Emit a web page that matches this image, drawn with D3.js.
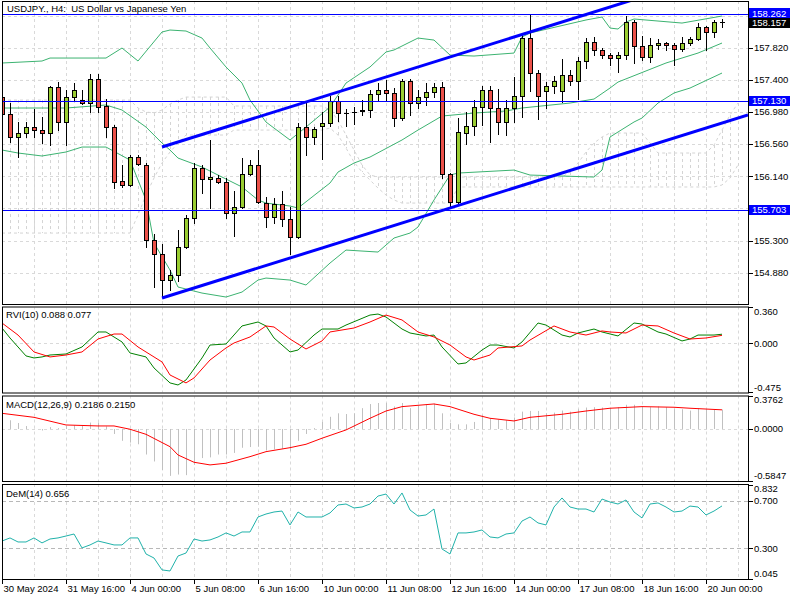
<!DOCTYPE html>
<html><head><meta charset="utf-8">
<script src="https://cdn.jsdelivr.net/npm/d3@7"></script>
<style>
body{margin:0;background:#fff}
svg{display:block}
text{font-family:"Liberation Sans",Arial,sans-serif;font-size:9.5px;white-space:pre}
</style>
</head><body>
<svg id="c" width="800" height="600"></svg>
<script>
// ---------------- DATA ----------------
const opens=[157.175,156.953,156.653,156.705,156.783,156.744,156.705,157.306,156.849,157.175,157.136,157.097,157.411,157.058,156.783,156.078,156.026,156.391,156.287,155.307,155.124,154.784,154.850,155.215,155.594,156.248,156.104,156.117,156.065,155.660,155.738,156.169,156.287,155.790,155.607,155.777,155.581,155.346,156.783,156.653,156.797,156.836,157.123,156.966,156.980,156.993,157.006,157.215,157.267,157.228,156.901,157.385,157.097,157.175,157.241,157.306,156.169,155.803,156.705,156.797,157.045,157.267,157.032,156.849,157.032,157.189,157.946,157.489,157.254,157.319,157.254,157.463,157.385,157.646,157.894,157.790,157.724,157.685,157.724,158.156,157.842,157.698,157.855,157.881,157.855,157.803,157.881,157.933,158.090,158.025,158.156];
const highs=[157.202,157.097,156.849,156.849,157.019,156.914,157.319,157.371,157.267,157.358,157.267,157.476,157.476,157.149,156.810,156.287,156.418,156.418,156.313,155.385,155.255,154.915,155.438,155.634,156.313,156.287,156.614,156.156,156.117,155.947,156.378,156.352,156.483,155.869,155.856,155.947,155.738,156.836,157.097,156.783,156.980,157.189,157.189,157.019,157.045,157.136,157.267,157.358,157.398,157.293,157.411,157.411,157.267,157.358,157.358,157.371,156.182,156.901,156.980,157.136,157.319,157.319,157.280,157.136,157.437,157.986,158.262,157.528,157.371,157.450,157.672,157.528,157.698,157.946,157.960,157.816,157.750,157.764,158.234,158.182,157.973,157.946,157.933,157.894,157.881,157.960,157.960,158.142,158.103,158.182,158.195];
const lows=[156.927,156.587,156.391,156.653,156.653,156.574,156.548,156.744,156.548,157.136,157.084,156.980,156.980,156.653,155.986,156.000,156.013,156.287,155.215,154.693,154.562,154.654,154.771,155.202,155.529,155.921,155.725,156.052,155.594,155.359,155.725,156.156,155.790,155.477,155.529,155.490,155.124,155.333,156.418,156.561,156.365,156.797,156.862,156.797,156.823,156.940,156.914,157.136,157.136,156.797,156.875,156.940,157.032,157.071,157.175,156.117,155.738,155.764,156.561,156.679,156.810,156.587,156.692,156.679,156.849,156.914,157.254,156.888,157.032,157.228,157.110,157.332,157.149,157.554,157.724,157.685,157.594,157.502,157.672,157.620,157.659,157.633,157.803,157.790,157.594,157.777,157.855,157.920,157.790,157.960,158.090];
const closes=[156.953,156.653,156.705,156.783,156.744,156.705,157.306,156.849,157.175,157.267,157.097,157.411,157.045,156.783,156.065,156.026,156.391,156.300,155.307,155.124,154.784,154.850,155.215,155.594,156.248,156.104,156.130,156.065,155.660,155.738,156.169,156.287,155.803,155.607,155.777,155.581,155.346,156.783,156.653,156.757,156.836,157.123,156.966,156.966,156.980,157.006,157.215,157.267,157.228,156.901,157.385,157.097,157.175,157.241,157.306,156.169,155.803,156.718,156.797,157.045,157.267,157.032,156.849,157.032,157.189,157.946,157.489,157.189,157.319,157.385,157.463,157.385,157.646,157.894,157.790,157.724,157.685,157.724,158.156,157.842,157.698,157.855,157.881,157.855,157.803,157.881,157.933,158.090,158.025,158.156,158.157];

// Bollinger bands: [bar, price]
const bbUpper=[[0,157.620],[5,157.646],[6,157.685],[13,157.685],[15,157.816],[17,157.646],[20,158.025],[21,158.051],[23,158.038],[25,157.946],[26,157.816],[28,157.568],[30,157.358],[31,157.136],[33,156.849],[34,156.770],[36,156.614],[38,156.783],[41,157.045],[43,157.358],[46,157.568],[48,157.764],[49,157.790],[52,157.946],[54,157.920],[56,157.724],[59,157.711],[64,157.750],[65,157.960],[66,158.012],[73,158.182],[75,158.221],[76,158.077],[77,158.064],[78,158.156],[79,158.195],[85,158.142],[90,158.234]];
const bbMiddle=[[0,157.032],[8,157.032],[13,157.071],[15,157.006],[18,156.783],[20,156.574],[21,156.483],[22,156.378],[25,156.261],[27,156.156],[30,156.000],[32,155.830],[33,155.790],[36,155.751],[37,155.725],[41,156.052],[42,156.195],[44,156.313],[46,156.391],[50,156.614],[52,156.744],[55,156.927],[59,156.966],[63,156.993],[65,157.032],[71,157.097],[74,157.149],[76,157.293],[77,157.371],[83,157.620],[87,157.750],[90,157.881]];
const bbLower=[[0,156.483],[2,156.444],[5,156.405],[8,156.457],[10,156.522],[13,156.522],[16,156.352],[17,156.091],[18,155.830],[19,155.268],[21,154.915],[22,154.693],[25,154.614],[28,154.562],[30,154.627],[32,154.784],[33,154.810],[36,154.784],[38,154.719],[41,155.006],[43,155.176],[47,155.150],[49,155.333],[51,155.398],[52,155.477],[54,155.830],[56,156.156],[57,156.182],[64,156.221],[66,156.156],[74,156.130],[75,156.221],[76,156.653],[79,156.849],[80,156.901],[82,157.097],[84,157.228],[86,157.293],[90,157.489]];

// Ichimoku-style cloud edges per bar (0..92)
const cloudTop=[157.136,157.136,157.136,157.136,157.136,157.136,157.136,157.136,157.136,157.136,157.136,157.136,157.136,157.136,157.136,157.136,157.136,157.032,156.980,156.966,157.006,157.084,157.136,157.175,157.175,157.175,157.175,157.175,157.175,157.058,157.058,157.058,157.058,157.058,157.058,157.058,157.058,157.058,157.058,157.058,157.058,157.006,156.875,156.679,156.483,156.287,156.156,156.130,156.130,156.130,156.130,156.130,156.130,156.130,156.130,156.130,156.130,156.130,156.130,156.130,156.130,156.130,156.130,156.130,156.130,156.130,156.130,156.130,156.130,156.130,156.130,156.195,156.313,156.457,156.574,156.653,156.705,156.705,156.705,156.705,156.705,156.574,156.444,156.444,156.444,156.444,156.444,156.444,156.444,156.548,156.744,156.940,157.097];
const cloudBot=[155.398,155.398,155.398,155.398,155.398,155.398,155.398,155.398,155.398,155.398,155.398,155.398,155.398,155.398,155.398,155.398,155.398,155.634,155.895,156.117,156.313,156.457,156.574,156.679,156.679,156.679,156.679,156.679,156.679,156.744,156.744,156.744,156.744,156.744,156.744,156.744,156.744,156.744,156.744,156.744,156.744,156.770,156.679,156.509,156.326,156.195,156.091,155.986,155.895,155.830,155.790,155.790,155.790,155.790,155.790,155.790,155.790,156.000,156.000,156.000,156.000,156.000,156.000,156.000,156.000,156.000,156.000,156.000,156.000,156.000,156.000,156.000,156.000,156.000,156.000,156.000,156.000,156.000,156.000,156.000,156.000,156.000,156.000,156.000,156.000,156.000,156.000,156.000,156.000,156.000,156.026,156.117,156.287];

// Channel anchors [bar, price]
const chanUpper=[[20,156.522],[66,158.025]];
const chanLower=[[20,154.549],[90,156.836]];
const hLevels=[158.262,157.130,155.703];
const lastPrice=158.157;
const priceTicks=[154.88,155.30,155.72,156.14,156.56,156.98,157.40,157.82,158.24];
const hiddenPriceLabels=[155.72,158.24]; // covered by the level boxes in the original

// RVI(10): [bar, value]
const rviMain=[[0,0.149],[1,0.051],[2,-0.037],[3,-0.125],[4,-0.145],[5,-0.135],[6,-0.116],[8,-0.106],[10,-0.037],[12,0.110],[13,0.110],[14,0.061],[15,0.012],[16,-0.096],[18,-0.135],[19,-0.243],[21,-0.390],[22,-0.410],[23,-0.361],[25,-0.145],[26,-0.018],[28,-0.008],[30,0.169],[32,0.208],[33,0.169],[34,0.051],[36,-0.086],[37,-0.067],[39,0.080],[40,0.139],[42,0.139],[43,0.178],[46,0.276],[47,0.286],[48,0.257],[50,0.139],[51,0.100],[53,0.071],[54,0.080],[55,-0.037],[57,-0.204],[58,-0.194],[60,-0.067],[61,-0.018],[62,-0.018],[64,-0.047],[65,0.012],[67,0.198],[68,0.178],[70,0.080],[71,0.061],[72,0.100],[74,0.139],[75,0.110],[77,0.071],[79,0.198],[80,0.188],[82,0.110],[83,0.090],[85,0.022],[86,0.041],[87,0.080],[89,0.080],[90,0.088]];
const rviSignal=[[0,0.198],[2,0.080],[4,-0.086],[6,-0.135],[8,-0.116],[10,-0.086],[12,0.041],[14,0.090],[15,0.090],[17,-0.037],[20,-0.184],[21,-0.312],[23,-0.390],[24,-0.341],[26,-0.165],[28,-0.047],[29,0.002],[31,0.061],[33,0.169],[34,0.159],[36,0.041],[38,-0.057],[40,0.022],[41,0.110],[44,0.149],[46,0.208],[48,0.276],[50,0.228],[52,0.110],[54,0.061],[56,-0.018],[58,-0.135],[59,-0.165],[61,-0.116],[62,-0.047],[65,-0.027],[66,0.031],[69,0.169],[71,0.110],[73,0.080],[75,0.120],[76,0.110],[78,0.100],[80,0.178],[82,0.169],[84,0.100],[86,0.041],[88,0.051],[90,0.077]];

// MACD(12,26,9)
const macdHist=[0.12,0.098,0.067,0.033,0.002,-0.017,0.021,0.010,0.033,0.041,0.033,0.072,0.072,0.029,-0.056,-0.133,-0.153,-0.172,-0.287,-0.365,-0.461,-0.527,-0.512,-0.519,-0.403,-0.327,-0.319,-0.287,-0.287,-0.269,-0.211,-0.203,-0.199,-0.241,-0.229,-0.222,-0.249,-0.133,-0.056,0.010,0.079,0.137,0.176,0.168,0.176,0.234,0.280,0.292,0.292,0.253,0.292,0.234,0.261,0.280,0.284,0.176,0.067,0.052,0.052,0.079,0.156,0.118,0.106,0.098,0.129,0.195,0.203,0.203,0.176,0.184,0.207,0.195,0.222,0.241,0.245,0.241,0.234,0.245,0.272,0.272,0.253,0.245,0.253,0.245,0.222,0.222,0.207,0.234,0.222,0.215,0.2186];
const macdSignal=[[0,0.176],[4,0.131],[8,0.045],[12,0.034],[14,0.034],[16,-0.003],[18,-0.060],[21,-0.199],[22,-0.292],[24,-0.374],[26,-0.404],[28,-0.385],[31,-0.311],[33,-0.255],[36,-0.210],[38,-0.172],[40,-0.104],[43,-0.011],[46,0.120],[48,0.202],[50,0.251],[54,0.281],[56,0.251],[59,0.165],[61,0.120],[64,0.090],[66,0.131],[70,0.165],[73,0.202],[76,0.233],[80,0.251],[84,0.244],[86,0.233],[90,0.215]];

// DeMarker(14)
const dem=[0.361,0.387,0.353,0.353,0.387,0.345,0.378,0.387,0.403,0.420,0.303,0.328,0.361,0.345,0.328,0.328,0.387,0.387,0.252,0.218,0.118,0.109,0.235,0.260,0.378,0.361,0.370,0.395,0.429,0.403,0.437,0.437,0.563,0.588,0.605,0.613,0.496,0.605,0.563,0.563,0.563,0.597,0.664,0.672,0.639,0.647,0.672,0.739,0.756,0.672,0.765,0.622,0.571,0.580,0.630,0.294,0.252,0.429,0.429,0.437,0.454,0.395,0.387,0.420,0.429,0.529,0.563,0.513,0.496,0.647,0.723,0.647,0.630,0.630,0.605,0.714,0.689,0.672,0.706,0.605,0.555,0.672,0.681,0.647,0.605,0.613,0.655,0.647,0.580,0.613,0.656];

const timeLabels=["30 May 2024","31 May 16:00","4 Jun 00:00","5 Jun 08:00","6 Jun 16:00","10 Jun 00:00","11 Jun 08:00","12 Jun 16:00","14 Jun 00:00","17 Jun 08:00","18 Jun 16:00","20 Jun 00:00"];
const timeLabelBars=[0,8,16,24,32,40,48,56,64,72,80,88];

// ---------------- DRAW ----------------
const svg=d3.select("#c");
const X0=2,X1=748;
const xS=d3.scaleLinear().domain([0,93.25]).range([X0,X1]);
const yMain=d3.scaleLinear().domain([154.88,157.82]).range([272.7,47.7]);
const yRvi=d3.scaleLinear().domain([-0.475,0.36]).range([391.6,306.5]);
const yMacd=d3.scaleLinear().domain([-0.5847,0.3762]).range([481,395.5]);
const yDem=d3.scaleLinear().domain([0.045,0.832]).range([578.6,485]);
const panes=[{top:1,bot:304},{top:306.5,bot:392.5},{top:395.5,bot:481},{top:484,bot:579}];
const gridCol="#d9d9d9";
const cx=i=>Math.round(xS(i));

const defs=svg.append("defs");
panes.forEach((p,k)=>{
  defs.append("clipPath").attr("id","clip"+k).append("rect")
    .attr("x",X0+1).attr("y",p.top+1).attr("width",X1-X0-1).attr("height",p.bot-p.top-1);
});
const paneG=panes.map((p,k)=>svg.append("g").attr("clip-path",`url(#clip${k})`));

// vertical grid
const gridBars=d3.range(4,93,4);
panes.forEach((p,k)=>{
  paneG[k].selectAll(null).data(gridBars).enter().append("line")
    .attr("x1",b=>cx(b)+0.5).attr("x2",b=>cx(b)+0.5)
    .attr("y1",p.top).attr("y2",p.bot)
    .attr("stroke",gridCol).attr("stroke-dasharray","3,3");
});
// horizontal grid main
paneG[0].selectAll(null).data(priceTicks).enter().append("line")
  .attr("x1",X0).attr("x2",X1)
  .attr("y1",d=>Math.round(yMain(d))+0.5).attr("y2",d=>Math.round(yMain(d))+0.5)
  .attr("stroke",gridCol).attr("stroke-dasharray","3,3");

// cloud
const g0=paneG[0];
const cloudIdx=d3.range(cloudTop.length);
g0.selectAll(null).data(cloudIdx).enter().append("line")
  .attr("x1",i=>cx(i)+0.5).attr("x2",i=>cx(i)+0.5)
  .attr("y1",i=>yMain(cloudTop[i])).attr("y2",i=>yMain(cloudBot[i]))
  .attr("stroke","#d4d4d4").attr("stroke-dasharray","3,3");
const cl=d3.line().x(d=>xS(d[0])).y(d=>yMain(d[1]));
g0.append("path").attr("d",cl(cloudTop.map((v,i)=>[i,v]))).attr("fill","none").attr("stroke","#d4d4d4").attr("stroke-dasharray","3,3");
g0.append("path").attr("d",cl(cloudBot.map((v,i)=>[i,v]))).attr("fill","none").attr("stroke","#d4d4d4").attr("stroke-dasharray","3,3");

// bollinger
[bbUpper,bbMiddle,bbLower].forEach(arr=>{
  g0.append("path").attr("d",cl(arr)).attr("fill","none").attr("stroke","#3CB371").attr("stroke-width",1);
});

// candles
const idx=d3.range(opens.length);
const cg=g0.append("g");
idx.forEach(i=>{
  const x=cx(i);
  const yo=Math.round(yMain(opens[i])), yc=Math.round(yMain(closes[i]));
  const yh=Math.round(yMain(highs[i])), yl=Math.round(yMain(lows[i]));
  cg.append("line").attr("x1",x+0.5).attr("x2",x+0.5).attr("y1",yh).attr("y2",yl+1).attr("stroke","#000");
  if(Math.abs(yo-yc)<1){
    cg.append("line").attr("x1",x-2).attr("x2",x+3).attr("y1",yo+0.5).attr("y2",yo+0.5).attr("stroke","#000");
  } else {
    const bull=closes[i]>opens[i];
    cg.append("rect").attr("x",x-1.5).attr("width",4)
      .attr("y",Math.min(yo,yc)+0.5).attr("height",Math.abs(yo-yc))
      .attr("fill",bull?"#9ACD32":"#EB5149").attr("stroke","#000");
  }
});

// horizontal levels
hLevels.forEach(v=>{
  const y=Math.round(yMain(v))+0.5;
  g0.append("line").attr("x1",X0).attr("x2",X1).attr("y1",y).attr("y2",y).attr("stroke","#0000FF");
});
// channel lines (rays extended to the right edge)
[chanUpper,chanLower].forEach(a=>{
  const slope=(a[1][1]-a[0][1])/(a[1][0]-a[0][0]);
  const endBar=93.25;
  const endVal=a[0][1]+slope*(endBar-a[0][0]);
  g0.append("line").attr("x1",xS(a[0][0])).attr("y1",yMain(a[0][1]))
    .attr("x2",xS(endBar)).attr("y2",yMain(endVal))
    .attr("stroke","#0000FF").attr("stroke-width",3);
});

// RVI
const g1=paneG[1];
g1.append("line").attr("x1",X0).attr("x2",X1).attr("y1",Math.round(yRvi(0))+0.5).attr("y2",Math.round(yRvi(0))+0.5).attr("stroke",gridCol).attr("stroke-dasharray","3,3");
const lr=d3.line().x(d=>xS(d[0])).y(d=>yRvi(d[1]));
g1.append("path").attr("d",lr(rviMain)).attr("fill","none").attr("stroke","#008000");
g1.append("path").attr("d",lr(rviSignal)).attr("fill","none").attr("stroke","#FF0000");

// MACD
const g2=paneG[2];
g2.append("line").attr("x1",X0).attr("x2",X1).attr("y1",Math.round(yMacd(0))+0.5).attr("y2",Math.round(yMacd(0))+0.5).attr("stroke",gridCol).attr("stroke-dasharray","3,3");
g2.selectAll(null).data(idx).enter().append("rect")
  .attr("x",i=>cx(i)).attr("width",1)
  .attr("y",i=>Math.min(yMacd(0),yMacd(macdHist[i])))
  .attr("height",i=>Math.abs(yMacd(macdHist[i])-yMacd(0)))
  .attr("fill","#C0C0C0");
const lm=d3.line().x(d=>xS(d[0])).y(d=>yMacd(d[1]));
g2.append("path").attr("d",lm(macdSignal)).attr("fill","none").attr("stroke","#FF0000");

// DeM
const g3=paneG[3];
[0.7,0.3].forEach(v=>{
  const y=Math.round(yDem(v))+0.5;
  g3.append("line").attr("x1",X0).attr("x2",X1).attr("y1",y).attr("y2",y).attr("stroke","#b8b8b8").attr("stroke-dasharray","4,3");
});
const ld=d3.line().x((d,i)=>xS(i)).y(d=>yDem(d));
g3.append("path").attr("d",ld(dem)).attr("fill","none").attr("stroke","#20B2AA");

// pane frames
panes.forEach(p=>{
  svg.append("rect").attr("x",X0+0.5).attr("y",p.top+0.5).attr("width",X1-X0).attr("height",p.bot-p.top)
    .attr("fill","none").attr("stroke","#000");
});

// pane titles
svg.append("text").attr("x",7).attr("y",12).text("USDJPY., H4:  US Dollar vs Japanese Yen");
svg.append("text").attr("x",6).attr("y",318).text("RVI(10) 0.088 0.077");
svg.append("text").attr("x",6).attr("y",408).text("MACD(12,26,9) 0.2186 0.2150");
svg.append("text").attr("x",6).attr("y",497).text("DeM(14) 0.656");

// right axis
const ax=svg.append("g");
function rTick(y,label,dy){
  const yy=Math.round(y)+0.5;
  ax.append("line").attr("x1",X1+1).attr("x2",X1+5).attr("y1",yy).attr("y2",yy).attr("stroke","#000");
  if(label) ax.append("text").attr("x",X1+6).attr("y",y+(dy||0)).attr("dy","0.35em").text(label);
}
priceTicks.forEach(v=>rTick(yMain(v), hiddenPriceLabels.includes(v)?null:v.toFixed(3)));
rTick(yRvi(0.36),"0.360",5); rTick(yRvi(0),"0.000",0); rTick(yRvi(-0.475),"-0.475",-4);
rTick(yMacd(0.3762),"0.3762",4.5); rTick(yMacd(0),"0.0000",0); rTick(yMacd(-0.5847),"-0.5847",-5);
rTick(yDem(0.832),"0.832",4); rTick(yDem(0.7),"0.700",0); rTick(yDem(0.3),"0.300",0); rTick(yDem(0.045),"0.045",-4.5);

// price boxes (current price first, level boxes drawn over it)
function box(v,col,dy){
  const y=yMain(v)+(dy||0);
  ax.append("rect").attr("x",X1+1).attr("y",Math.round(y)-5).attr("width",41).attr("height",10).attr("fill",col);
  ax.append("text").attr("x",X1+4).attr("y",y).attr("dy","0.35em").attr("fill","#fff").text(v.toFixed(3));
}
box(lastPrice,"#000",1.2);
hLevels.forEach(v=>box(v,"#0000FF",v===158.262?-0.6:0));

// bottom time axis
timeLabelBars.forEach((b,k)=>{
  const x=cx(b)+0.5;
  ax.append("line").attr("x1",x).attr("x2",x).attr("y1",579).attr("y2",584).attr("stroke","#000");
  ax.append("text").attr("x",x+1).attr("y",592).text(timeLabels[k]);
});
</script>
</body></html>
